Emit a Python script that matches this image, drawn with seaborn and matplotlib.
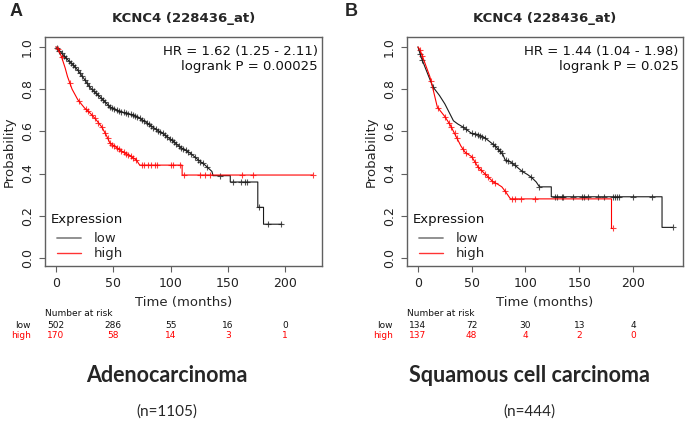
#!/usr/bin/env python3
# Kaplan-Meier style survival panels (KCNC4) - two cohorts side by side

import numpy as np
import pandas as pd
import matplotlib
matplotlib.use("Agg")
import matplotlib.pyplot as plt
import matplotlib.transforms as mtransforms
import seaborn as sns

# ============================================================================
# DATA
# ============================================================================
# Panel A - Adenocarcinoma (curve vertices, repeated times are the drops)
a_low_t = [0, 5, 10, 15, 19, 25, 30, 35, 40, 47, 55, 62, 67, 72, 78, 83, 88, 93, 98, 103,
           108, 117, 124, 130, 136, 137, 152, 152, 176, 176, 181, 181, 197]
a_low_s = [1.0, 0.97, 0.94, 0.915, 0.89, 0.845, 0.806, 0.78, 0.755, 0.716, 0.695, 0.685,
           0.678, 0.665, 0.645, 0.625, 0.607, 0.59, 0.57, 0.55, 0.526, 0.497, 0.465, 0.44,
           0.41, 0.39, 0.39, 0.36, 0.36, 0.24, 0.24, 0.16, 0.16]
a_high_t = [0, 2, 5, 8, 10, 14, 19, 25, 30, 35, 40, 44, 47, 51, 55, 59, 63, 67, 70, 73,
            110, 110, 224]
a_high_s = [1.0, 0.99, 0.95, 0.90, 0.86, 0.80, 0.75, 0.71, 0.685, 0.655, 0.62, 0.58, 0.545,
            0.53, 0.515, 0.50, 0.49, 0.475, 0.465, 0.44, 0.44, 0.393, 0.393]
a_low_cens = [1, 3, 5, 7, 9, 11, 13, 15, 17, 19, 21, 23, 25, 27, 29, 31, 33, 35, 37, 39, 41,
              43, 45, 47, 49, 51, 53, 55, 57, 59, 61, 63, 65, 67, 69, 71, 73, 75, 77, 79, 81,
              83, 85, 87, 89, 91, 93, 95, 97, 99, 101, 103, 105, 107, 109, 111, 113, 115, 118,
              121, 124, 126, 128, 132, 143, 154, 161, 165, 167, 177, 185, 196]
a_high_cens = [2, 5, 12, 20, 26, 28, 31, 34, 37, 40, 43, 45, 47, 49, 51, 53, 55, 57, 59, 61,
               63, 65, 67, 70, 75, 77, 80, 83, 86, 88, 100, 102, 108, 112, 126, 130, 134,
               162, 172, 224]
a_risk_low = [502, 286, 55, 16, 0]
a_risk_high = [170, 58, 14, 3, 1]

# Panel B - Squamous cell carcinoma
b_low_t = [0, 3, 6.5, 10, 14, 20, 25, 29, 33, 37, 42, 50, 56, 62, 67, 72, 79, 81, 86, 90,
           97, 102, 106, 110, 113, 124, 124, 227, 227, 237]
b_low_s = [1.0, 0.95, 0.905, 0.86, 0.81, 0.77, 0.73, 0.69, 0.65, 0.635, 0.62, 0.59, 0.585,
           0.57, 0.55, 0.53, 0.49, 0.465, 0.455, 0.44, 0.41, 0.395, 0.38, 0.36, 0.337,
           0.337, 0.29, 0.29, 0.145, 0.145]
b_high_t = [0, 2, 6, 11, 14, 18, 25, 30, 34, 40, 44, 50, 53, 56, 60, 65, 70, 74, 78, 82,
            86, 180, 180, 181]
b_high_s = [1.0, 0.985, 0.93, 0.86, 0.80, 0.715, 0.67, 0.63, 0.59, 0.53, 0.50, 0.48,
            0.455, 0.43, 0.41, 0.385, 0.36, 0.35, 0.337, 0.31, 0.28, 0.28, 0.14, 0.14]
b_low_cens = [2, 4, 14, 42, 45, 50, 53, 56, 58, 60, 62, 70, 72, 74, 76, 78, 82, 84, 87, 90,
              97, 105, 113, 127, 129, 134, 135, 144, 153, 154, 158, 167, 173, 181, 183, 185,
              187, 200, 218, 237]
b_high_cens = [2, 4, 12, 19, 25, 29, 31, 34, 36, 42, 45, 50, 53, 56, 59, 62, 65, 69, 72, 81,
               87, 90, 96, 109, 181]
b_risk_low = [134, 72, 30, 13, 4]
b_risk_high = [137, 48, 4, 2, 0]

risk_times = [0, 50, 100, 150, 200]
x_ticks = [0, 50, 100, 150, 200]
y_ticks = [0.0, 0.2, 0.4, 0.6, 0.8, 1.0]

# ============================================================================
# THEME SETTINGS
# ============================================================================
sns.set_theme(style="white")
plt.rcParams['font.family'] = ['DejaVu Sans']

RED = '#FF0000'
BLACK = '#1a1a1a'
FRAME = '#606060'
FS = 9.5


def curve_frame(times, surv):
    return pd.DataFrame({'time': times, 'surv': surv})


def cens_frame(times, curve_t, curve_s):
    return pd.DataFrame({'time': times, 'surv': np.interp(times, curve_t, curve_s)})


def draw_panel(ax, low_t, low_s, high_t, high_s, low_c, high_c, xlim, hr_text):
    for t, s, c, col in [(low_t, low_s, low_c, BLACK), (high_t, high_s, high_c, RED)]:
        sns.lineplot(data=curve_frame(t, s), x='time', y='surv', estimator=None,
                     sort=False, color=col, lw=0.8, ax=ax)
        sns.scatterplot(data=cens_frame(c, t, s), x='time', y='surv', marker='+',
                        s=20, linewidth=0.8, color=col, alpha=0.75, ax=ax)
    ax.set_xlim(*xlim)
    ax.set_ylim(-0.038, 1.047)
    ax.set_xticks(x_ticks)
    ax.set_yticks(y_ticks)
    ax.set_yticklabels([f"{v:.1f}" for v in y_ticks], rotation=90, va='center')
    ax.tick_params(axis='both', labelsize=9, colors='#222222', length=4.5,
                   width=0.8, color=FRAME, direction='out', pad=3.5)
    ax.tick_params(left=True, bottom=True)
    for sp in ax.spines.values():
        sp.set_color(FRAME)
        sp.set_linewidth(1.0)
    ax.set_xlabel("Time (months)", fontsize=FS, labelpad=4)
    ax.set_ylabel("Probability", fontsize=FS, labelpad=3.5)
    ax.set_title("KCNC4 (228436_at)", fontsize=9.5, fontweight='bold', pad=11)
    ax.text(0.985, 0.965, hr_text, transform=ax.transAxes, ha='right', va='top',
            fontsize=FS, linespacing=1.15, color='#111111')
    # legend: title as text, entries indented below it
    ax.text(0.02, 0.205, "Expression", transform=ax.transAxes, ha='left', va='center',
            fontsize=FS, color='#111111')
    h_low, = ax.plot([], [], color='#888888', lw=1.3)
    h_high, = ax.plot([], [], color=RED, lw=1.0, alpha=0.8)
    ax.legend([h_low, h_high], ['low', 'high'], loc='lower left', frameon=False,
              fontsize=FS, handlelength=1.85, handletextpad=0.95, borderaxespad=0,
              borderpad=0, labelspacing=0.15, bbox_to_anchor=(0.043, 0.025))


fig = plt.figure(figsize=(6.85, 4.21), dpi=100)
W, H = 685.0, 421.0
axA = fig.add_axes([45 / W, 1 - 266 / H, 277 / W, 229 / H])
axB = fig.add_axes([407 / W, 1 - 266 / H, 276 / W, 229 / H])

draw_panel(axA, a_low_t, a_low_s, a_high_t, a_high_s, a_low_cens, a_high_cens,
           (-9.6, 232), "HR = 1.62 (1.25 - 2.11)\nlogrank P = 0.00025")
draw_panel(axB, b_low_t, b_low_s, b_high_t, b_high_s, b_low_cens, b_high_cens,
           (-10.2, 246.5), "HR = 1.44 (1.04 - 1.98)\nlogrank P = 0.025")

# number at risk tables
for ax, rl, rh, lab_x in [(axA, a_risk_low, a_risk_high, 31), (axB, b_risk_low, b_risk_high, 393)]:
    tr = mtransforms.blended_transform_factory(ax.transData, fig.transFigure)
    left = ax.get_position().x0
    fig.text(left, 1 - 314 / H, "Number at risk", fontsize=6.5,
             ha='left', va='center', color='#111111')
    fig.text(lab_x / W, 1 - 325 / H, "low", fontsize=6.5, ha='right',
             va='center', color='#111111')
    fig.text(lab_x / W, 1 - 335 / H, "high", fontsize=6.5, ha='right',
             va='center', color=RED)
    for t, n1, n2 in zip(risk_times, rl, rh):
        ax.text(t, 1 - 325 / H, str(n1), transform=tr, fontsize=6.5,
                ha='center', va='center', color='#111111')
        ax.text(t, 1 - 335 / H, str(n2), transform=tr, fontsize=6.5,
                ha='center', va='center', color=RED)

# panel letters and captions
fig.text(10 / W, 1 - 11 / H, "A", fontsize=13, fontweight='bold', family='Liberation Sans',
         ha='left', va='center')
fig.text(345 / W, 1 - 11 / H, "B", fontsize=13, fontweight='bold', family='Liberation Sans',
         ha='left', va='center')
fig.text(167 / W, 1 - 376 / H, "Adenocarcinoma", fontsize=15.5, fontweight='bold',
         family='Lato', ha='center', va='center')
fig.text(529 / W, 1 - 376 / H, "Squamous cell carcinoma", fontsize=15.5, fontweight='bold',
         family='Lato', ha='center', va='center')
fig.text(167 / W, 1 - 412 / H, "(n=1105)", fontsize=11, family='Lato', ha='center', va='center')
fig.text(529 / W, 1 - 412 / H, "(n=444)", fontsize=11, family='Lato', ha='center', va='center')

plt.savefig("out.png", dpi=100)
plt.close()
